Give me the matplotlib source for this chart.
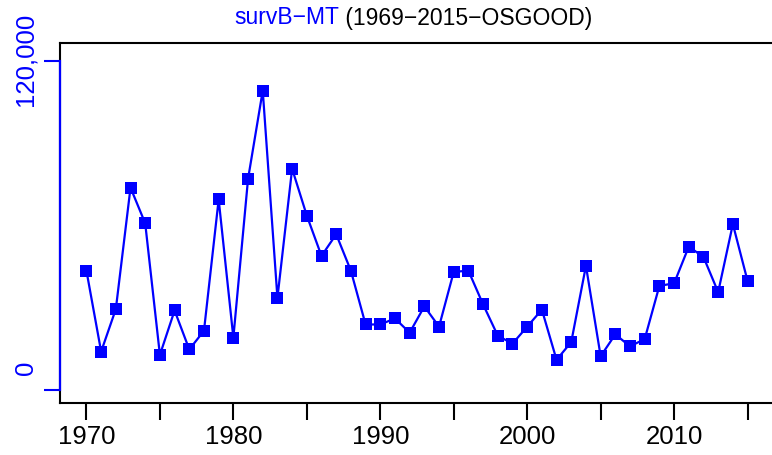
import matplotlib.pyplot as plt
import matplotlib.transforms as mtransforms

plt.rcParams["font.family"] = ["Liberation Sans", "DejaVu Sans"]

# --- data -------------------------------------------------------------------
years = list(range(1970, 2016))
surv = [
    43500, 14000, 29500, 73800, 60800, 12800, 29000, 14800, 21600, 69500,
    19100, 77000, 109200, 33600, 80700, 63600, 48900, 56800, 43500, 23900,
    23900, 26100, 20900, 30500, 23100, 43100, 43500, 31200, 19800, 16900,
    23100, 29300, 11000, 17500, 45300, 12300, 20300, 15900, 18600, 38000,
    38900, 52300, 48500, 35700, 60500, 39800,
]
x_major = [1970, 1980, 1990, 2000, 2010]
x_minor = [1975, 1985, 1995, 2005, 2015]
y_ticks = [0, 120000]
y_labels = ["0", "120,000"]

BLUE = "#0000FF"

W, H = 772, 455
fig = plt.figure(figsize=(W / 100, H / 100), dpi=100)
ax = fig.add_axes([60 / W, (H - 403) / H, 714 / W, 360 / H])

ax.plot(years, surv, color=BLUE, linewidth=1.6, marker="s", markersize=9,
        markeredgewidth=0, zorder=3)

ax.set_xlim(1968.2, 2016.8)
ax.set_ylim(-4742, 126565)

# x axis
ax.set_xticks(x_major)
ax.set_xticks(x_minor, minor=True)
ax.set_xticklabels([str(v) for v in x_major], fontsize=18.5)
ax.tick_params(axis="x", which="both", direction="out", length=12, width=1.5,
               color="black", pad=4)

# y axis (blue), labels placed by hand like R's rotated axis labels
ax.set_yticks(y_ticks)
ax.set_yticklabels([])
ax.tick_params(axis="y", direction="out", length=11.5, width=1.5, color=BLUE)
trans = mtransforms.blended_transform_factory(ax.transAxes, ax.transData)
for val, lab, dy in zip(y_ticks, y_labels, [22, 2]):
    ax.annotate(lab, xy=(0, val), xycoords=trans, xytext=(-22, dy),
                textcoords="offset pixels", rotation=90, ha="right",
                va="center", color=BLUE, fontsize=18.5, annotation_clip=False)

for s in ["top", "bottom", "left"]:
    ax.spines[s].set_linewidth(1.5)
    ax.spines[s].set_color("black")
ax.spines["right"].set_visible(False)

# blue axis line over the box edge between 0 and 120,000
ax.plot([0, 0], [0, 120000], color=BLUE, linewidth=1.6, transform=trans,
        clip_on=False, zorder=5)

# title: blue name + black period
ty = 1 - 18 / H
fig.text(339 / W, ty, "survB\u2212MT", color=BLUE, fontsize=16.5,
         ha="right", va="center")
fig.text(339 / W, ty, " (1969\u22122015\u2212OSGOOD)", color="black",
         fontsize=16.5, ha="left", va="center")

fig.savefig("out.png", dpi=100)
